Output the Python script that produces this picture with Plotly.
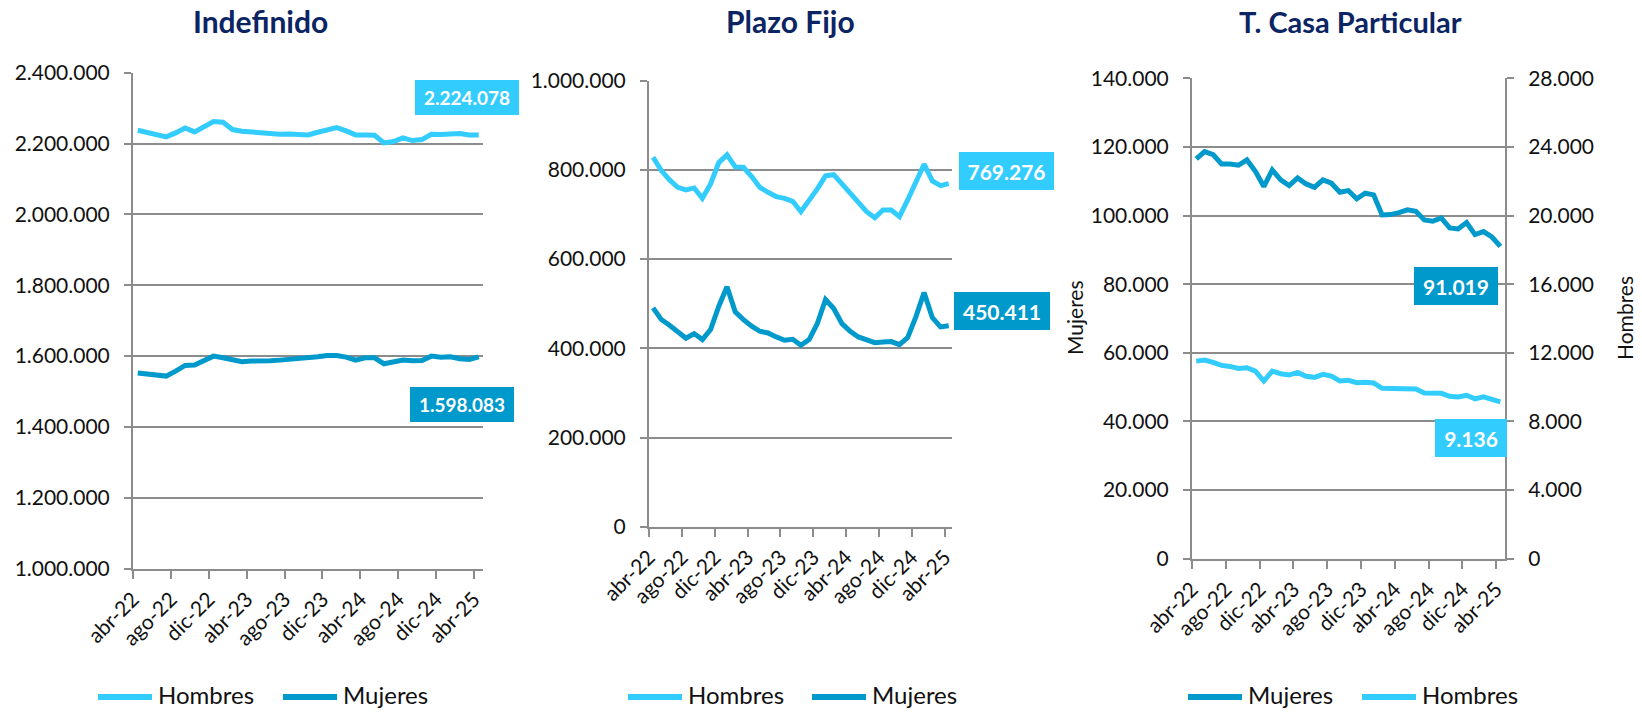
import plotly.graph_objects as go

# meses abr-22 .. abr-25
meses = [
    "abr-22", "may-22", "jun-22", "jul-22", "ago-22", "sep-22", "oct-22", "nov-22", "dic-22",
    "ene-23", "feb-23", "mar-23", "abr-23", "may-23", "jun-23", "jul-23", "ago-23", "sep-23",
    "oct-23", "nov-23", "dic-23", "ene-24", "feb-24", "mar-24", "abr-24", "may-24", "jun-24",
    "jul-24", "ago-24", "sep-24", "oct-24", "nov-24", "dic-24", "ene-25", "feb-25", "mar-25",
    "abr-25",
]

indef_hombres = [
    2237560, 2230990, 2224410, 2218780, 2230050, 2244130, 2232870, 2248830, 2261970, 2260100,
    2239440, 2234740, 2231930, 2229110, 2228170, 2226290, 2227230, 2225350, 2224410, 2231930,
    2238500, 2245070, 2235680, 2224410, 2224410, 2223480, 2201880, 2205630, 2215960, 2208450,
    2211270, 2226290, 2225350, 2225350, 2228170, 2224410, 2224078,
]
indef_mujeres = [
    1552110, 1550230, 1547420, 1543660, 1557750, 1573710, 1574650, 1587790, 1600000, 1595300,
    1588730, 1584040, 1585920, 1584980, 1586850, 1588730, 1590610, 1592490, 1593430, 1598120,
    1601880, 1601880, 1597180, 1588730, 1595300, 1595300, 1578400, 1582160, 1588730, 1586850,
    1587790, 1600000, 1597180, 1598120, 1592490, 1590610, 1598083,
]
plazo_hombres = [
    828460, 798500, 777530, 761050, 755060, 759550, 736340, 768540, 816480, 833700,
    806740, 805990, 785020, 761050, 749820, 740080, 736340, 729590, 706380, 731090,
    757310, 786520, 789510, 768540, 749070, 726600, 706380, 692890, 710120, 710120,
    695140, 732590, 773790, 812730, 775280, 764800, 769276,
]
plazo_mujeres = [
    490630, 464410, 451680, 435200, 422470, 432960, 419470, 441940, 494370, 537820,
    481640, 464410, 449430, 438200, 434450, 425470, 417980, 420220, 406740, 419470,
    455430, 509350, 489130, 455430, 438200, 425470, 417980, 412730, 414230, 414980,
    408240, 423970, 470410, 525080, 468910, 447940, 450411,
]
casa_mujeres = [
    116510, 118640, 117770, 115050, 115050, 114660, 116220, 112910, 108450, 113300,
    110390, 108740, 110970, 109220, 108250, 110390, 109420, 106800, 107280, 104860,
    106510, 106020, 100190, 100290, 100870, 101650, 101260, 98740, 98350, 99300,
    96390, 96100, 97960, 94460, 95340, 93760, 91019,
]
casa_hombres = [
    11516, 11574, 11439, 11265, 11207, 11091, 11130, 10937, 10357, 10937,
    10782, 10705, 10859, 10628, 10570, 10743, 10647, 10357, 10396, 10260,
    10280, 10241, 9932, 9932, 9932, 9932, 9893, 9662, 9662, 9642,
    9468, 9430, 9526, 9314, 9430, 9314, 9136,
]

W, H = 1642, 713
FONT = "Lato"
CLARO = "#33CCFF"
OSCURO = "#0099CC"
GRIS = "#8C8C8C"
TXT = "#111111"
NAVY = "#0B2463"

x = list(range(len(meses)))


def px_x(v):
    return v / W


def px_y(v):
    return 1 - v / H


def eje_x(a, b, fin, ancla):
    return dict(
        domain=[px_x(a), px_x(b)], range=[-0.5, fin], anchor=ancla, automargin=False,
        tickmode="array", tickvals=[i - 0.5 for i in x[::4]], ticktext=meses[::4],
        tickangle=-45, tickfont=dict(family=FONT, size=21, color=TXT),
        showline=True, linecolor=GRIS, linewidth=2,
        ticks="outside", ticklen=8, tickcolor=GRIS, tickwidth=2,
        showgrid=False, zeroline=False,
    )


def eje_y(top, bottom, rango, paso, ancla):
    return dict(
        domain=[px_y(bottom), px_y(top)], range=rango, dtick=paso, tickformat=",d",
        anchor=ancla, automargin=False,
        tickfont=dict(family=FONT, size=21, color=TXT),
        showline=True, linecolor=GRIS, linewidth=2,
        ticks="outside", ticklen=7, tickcolor=GRIS, tickwidth=2,
        showgrid=True, gridcolor=GRIS, gridwidth=2, zeroline=False,
        ticklabelstandoff=10,
    )


def linea(y, nombre, color, xa, ya):
    return go.Scatter(
        x=x, y=y, name=nombre, mode="lines", line=dict(color=color, width=5),
        xaxis=xa, yaxis=ya, cliponaxis=False, showlegend=False,
    )


def etiqueta(xref, yref, valor, color, dx, dy, ancho, alto, size):
    return dict(
        x=x[-1], y=valor, xref=xref, yref=yref, showarrow=False,
        text="<b>" + f"{valor:,}".replace(",", ".") + "</b>",
        font=dict(family=FONT, size=size, color="white"),
        bgcolor=color, borderwidth=0, borderpad=0,
        width=ancho, height=alto, xshift=dx, yshift=dy,
    )


fig = go.Figure()
fig.add_trace(linea(indef_hombres, "Hombres", CLARO, "x", "y"))
fig.add_trace(linea(indef_mujeres, "Mujeres", OSCURO, "x", "y"))
fig.add_trace(linea(plazo_hombres, "Hombres", CLARO, "x2", "y2"))
fig.add_trace(linea(plazo_mujeres, "Mujeres", OSCURO, "x2", "y2"))
fig.add_trace(linea(casa_mujeres, "Mujeres", OSCURO, "x3", "y3"))
fig.add_trace(linea(casa_hombres, "Hombres", CLARO, "x3", "y4"))

# leyendas propias (una por panel), con la muestra de linea larga como en Excel
inicio_leyenda = [98, 283, 628, 812, 1188, 1362]
formas, anotaciones = [], []
for tr, x0 in zip(fig.data, inicio_leyenda):
    formas.append(dict(type="line", xref="paper", yref="paper",
                       x0=px_x(x0), x1=px_x(x0 + 54), y0=px_y(697), y1=px_y(697),
                       line=dict(color=tr.line.color, width=6)))
    anotaciones.append(dict(x=px_x(x0 + 58), y=px_y(694), xref="paper", yref="paper",
                            showarrow=False, text=tr.name, xanchor="left", yanchor="middle",
                            font=dict(family=FONT, size=24, color=TXT)))

y4 = eje_y(78.3, 558.7, [0, 28000], 4000, "x3")
y4.update(overlaying="y3", side="right", showgrid=False)

titulos = [("Indefinido", 260, 30), ("Plazo Fijo", 790, 30), ("T. Casa Particular", 1350, 29)]
anotaciones += [
    dict(x=px_x(cx), y=px_y(21), xref="paper", yref="paper", showarrow=False,
         text=f"<b>{t}</b>", font=dict(family=FONT, size=s, color=NAVY),
         xanchor="center", yanchor="middle")
    for t, cx, s in titulos
]
anotaciones += [
    dict(x=px_x(cx), y=px_y(318), xref="paper", yref="paper", showarrow=False,
         text=t, textangle=-90, font=dict(family=FONT, size=21, color=TXT),
         xanchor="center", yanchor="middle")
    for t, cx in [("Mujeres", 1075), ("Hombres", 1625)]
]
anotaciones += [
    etiqueta("x", "y", indef_hombres[-1], CLARO, -12, 38, 104, 35, 19),
    etiqueta("x", "y", indef_mujeres[-1], OSCURO, -17, -48, 104, 35, 19),
    etiqueta("x2", "y2", plazo_hombres[-1], CLARO, 58, 13, 95, 38, 21),
    etiqueta("x2", "y2", plazo_mujeres[-1], OSCURO, 53, 15, 96, 38, 21),
    etiqueta("x3", "y3", casa_mujeres[-1], OSCURO, -44, -40, 84, 38, 21),
    etiqueta("x3", "y4", casa_hombres[-1], CLARO, -29, -36, 72, 38, 21),
]

fig.update_layout(
    width=W, height=H, margin=dict(l=0, r=0, t=0, b=0, autoexpand=False),
    paper_bgcolor="white", plot_bgcolor="white",
    separators=",.",
    xaxis=eje_x(133, 483, 36.45, "y"),
    yaxis=eje_y(72.7, 568.7, [1000000, 2400000], 200000, "x"),
    xaxis2=eje_x(649, 952, 36.4, "y2"),
    yaxis2=eje_y(80.7, 526.7, [0, 1000000], 200000, "x2"),
    xaxis3=eje_x(1192, 1505, 36.55, "y3"),
    yaxis3=eje_y(78.3, 558.7, [0, 140000], 20000, "x3"),
    yaxis4=y4,
    shapes=formas,
    annotations=anotaciones,
    showlegend=False,
)

# sin el margen por defecto del body la figura llena justo la ventana
fig.write_html(
    "out.html",
    config={"displayModeBar": False},
    post_script="document.body.style.margin = '0';",
)
